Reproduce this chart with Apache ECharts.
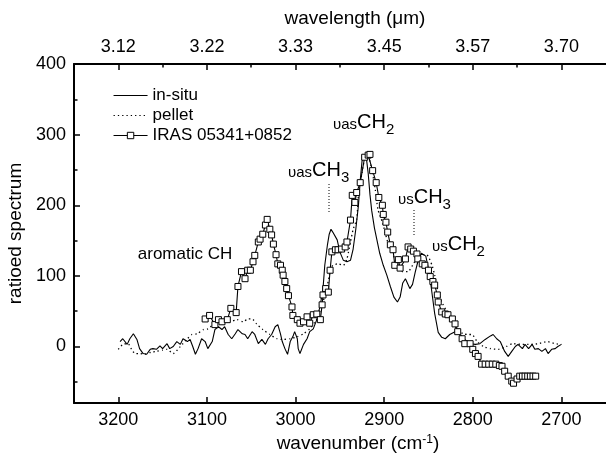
<!DOCTYPE html>
<html><head><meta charset="utf-8">
<script src="https://cdn.jsdelivr.net/npm/echarts@6/dist/echarts.min.js"></script>
<style>html,body{margin:0;padding:0;background:#fff}#c{width:606px;height:453px}</style>
</head><body><div id="c"></div>
<script>
// ---- data ----
const inSituWn = [3198,3195,3190,3187,3183,3179,3176,3172,3168,3164,3161,3157,3153,3150,3145,3142,3138,3134,3130,3127,3122,3119,3116,3113,3110,3106,3102,3099,3094,3091,3087,3083,3080,3076,3072,3068,3065,3060,3057,3054,3049,3046,3042,3038,3034,3031,3027,3023,3020,3017,3015,3012,3009,3006,3003,3001,2998,2997,2995,2991,2987,2984,2980,2976,2972,2969,2967,2964,2962,2960,2958,2953,2950,2946,2942,2938,2935,2932,2929,2927,2925,2923,2920,2918,2916,2914,2911,2908,2905,2901,2897,2893,2889,2885,2882,2879,2876,2874,2871,2868,2865,2862,2858,2856,2853,2850,2847,2843,2839,2835,2831,2826,2820,2814,2809,2803,2797,2792,2786,2780,2777,2773,2769,2764,2760,2756,2752,2749,2744,2741,2737,2733,2730,2726,2722,2718,2715,2711,2707,2704,2700];
const inSituVal = [7,11,3,11,18,10,-3,-10,-11,-4,-3,-4,1,-3,4,-3,0,7,3,11,7,10,0,-11,-3,11,7,-3,7,24,28,24,28,17,11,18,24,18,17,11,21,17,4,10,3,11,17,28,31,18,7,-3,-11,7,14,21,11,-3,-10,3,11,21,25,38,59,82,115,144,159,166,162,151,134,122,120,122,138,166,200,235,262,271,266,245,215,192,168,150,132,115,101,85,70,63,70,90,96,94,82,88,105,120,132,134,128,110,85,47,20,13,11,17,21,17,10,4,3,4,10,15,17,11,7,-7,-14,-7,0,3,-3,3,-3,3,-4,-3,-7,-3,-10,-4,-3,0,3];

const pelletWn = [3200,3195,3189,3185,3181,3176,3170,3163,3157,3150,3145,3138,3130,3122,3117,3111,3104,3099,3093,3087,3082,3074,3066,3059,3054,3049,3044,3037,3029,3021,3014,3006,2998,2991,2984,2976,2969,2964,2961,2958,2952,2946,2942,2938,2935,2931,2929,2925,2922,2918,2914,2910,2907,2902,2899,2896,2891,2888,2884,2879,2873,2867,2862,2857,2852,2846,2843,2839,2835,2829,2823,2818,2811,2805,2801,2795,2788,2780,2771,2762,2755,2744,2735,2726,2716,2707,2700];
const pelletVal = [-4,3,4,-4,-10,-10,-11,-8,-7,-5,-4,-10,0,11,17,18,24,25,31,35,39,35,38,35,39,39,32,24,17,11,10,11,14,18,25,39,63,87,106,115,117,115,124,148,166,180,214,246,265,268,251,222,194,176,162,148,134,124,115,106,106,117,127,130,130,115,101,77,63,49,35,25,18,17,17,7,0,-3,-4,0,4,3,3,4,7,4,3];

const irasWn = [3102,3097,3091,3087,3083,3077,3073,3067,3065,3061,3057,3054,3051,3048,3046,3042,3040,3037,3034,3032,3029,3027,3025,3022,3020,3017,3015,3014,3012,3010,3008,3004,3003,2998,2995,2991,2987,2984,2980,2976,2972,2970,2969,2966,2963,2961,2959,2955,2952,2948,2944,2942,2938,2936,2933,2931,2927,2922,2918,2916,2913,2909,2906,2902,2901,2898,2896,2893,2890,2888,2884,2882,2876,2873,2870,2867,2863,2862,2857,2854,2850,2848,2845,2843,2840,2839,2835,2831,2828,2823,2820,2817,2812,2809,2803,2800,2797,2794,2790,2786,2782,2778,2774,2770,2767,2764,2760,2756,2754,2750,2747,2744,2741,2738,2735,2732,2729];
const irasVal = [39,44,31,38,35,38,54,48,85,106,96,108,108,120,129,148,152,159,172,180,166,158,145,130,117,115,108,101,92,82,72,56,44,38,33,35,42,33,45,46,38,59,73,82,77,108,134,137,137,138,141,148,179,214,204,218,232,268,271,272,249,232,211,200,187,176,162,144,137,115,123,111,124,141,138,135,131,124,117,115,108,99,92,87,73,63,49,46,45,39,32,21,11,4,4,-4,-10,-14,-25,-25,-25,-25,-25,-27,-28,-35,-42,-49,-52,-46,-42,-42,-42,-42,-42,-42,-42];

const seriesNames = ['in-situ','pellet','IRAS 05341+0852'];
const xMajorTicks = [3200,3100,3000,2900,2800,2700];
const xMinorTicks = [3150,3050,2950,2850,2750];
const wavelengthLabels = ['3.12','3.22','3.33','3.45','3.57','3.70'];
const yMajorTicks = [0,100,200,300,400];
const yMinorTicks = [-50,50,150,250,350];

// ---- chart ----
const FONT = '"Liberation Sans", Arial, Helvetica, sans-serif';
const zip = (a,b) => a.map((v,i)=>[v,b[i]]);
const chart = echarts.init(document.getElementById('c'), null, {renderer:'canvas'});
const lineBlack = {color:'#000', width:2};
const xBase = {type:'value', min:2600, max:3250, inverse:true, gridIndex:0, splitLine:{show:false}};
const plain = (v) => String(v);
const rich5 = {
  g:{fontSize:15, fontFamily:FONT, fill:'#000', verticalAlign:'bottom', padding:[0,0,5,0]},
  b:{fontSize:20, fontFamily:FONT, fill:'#000', verticalAlign:'bottom', padding:[0,0,5,0]},
  s:{fontSize:15, fontFamily:FONT, fill:'#000', verticalAlign:'bottom'}
};

const option = {
  animation:false,
  backgroundColor:'#fff',
  grid:{left:74, right:-44, top:64, bottom:50, containLabel:false, outerBoundsMode:'none'},
  legend:{
    orient:'vertical', left:108, top:82, itemWidth:34, itemHeight:8, itemGap:3,
    lineStyle:{width:1.1},
    textStyle:{fontSize:17, color:'#000', fontFamily:FONT},
    data:[
      {name:seriesNames[0], itemStyle:{opacity:0}},
      {name:seriesNames[1], itemStyle:{opacity:0}},
      {name:seriesNames[2], itemStyle:{borderWidth:1}}
    ]
  },
  xAxis:[
    Object.assign({}, xBase, {
      position:'bottom',
      axisLine:{onZero:false, lineStyle:lineBlack},
      axisTick:{inside:true, length:6, customValues:xMajorTicks, lineStyle:{color:'#000', width:1.5}},
      axisLabel:{customValues:xMajorTicks, fontSize:18, color:'#000', fontFamily:FONT, margin:8, formatter:plain},
      name:'{t|wavenumber (cm}{sup|-1}{t|)}', nameLocation:'middle', nameGap:27,
      nameTextStyle:{fontSize:19, color:'#000', fontFamily:FONT, padding:[0,8,0,0],
        rich:{t:{fontSize:19, color:'#000', fontFamily:FONT, verticalAlign:'bottom'},
              sup:{fontSize:12, color:'#000', fontFamily:FONT, verticalAlign:'top'}}}
    }),
    Object.assign({}, xBase, {
      position:'top',
      axisLine:{onZero:false, lineStyle:lineBlack},
      axisTick:{inside:true, length:6, customValues:xMajorTicks, lineStyle:{color:'#000', width:1.5}},
      axisLabel:{customValues:xMajorTicks, fontSize:18, color:'#000', fontFamily:FONT, margin:8,
        formatter:(v)=>{const i=xMajorTicks.indexOf(v); return i>=0?wavelengthLabels[i]:'';}},
      name:'wavelength (\u03bcm)', nameLocation:'middle', nameGap:36,
      nameTextStyle:{fontSize:19, color:'#000', fontFamily:FONT, padding:[0,14,0,0]}
    }),
    Object.assign({}, xBase, {
      position:'top',
      axisLine:{show:false, onZero:false},
      axisTick:{inside:true, length:3.5, customValues:xMinorTicks, lineStyle:{color:'#000', width:1.5}},
      axisLabel:{show:false}
    })
  ],
  yAxis:[
    {type:'value', min:-80, max:400, position:'left', splitLine:{show:false},
      axisLine:{show:true, onZero:false, lineStyle:lineBlack},
      axisTick:{inside:true, length:6, customValues:yMajorTicks, lineStyle:{color:'#000', width:1.5}},
      axisLabel:{customValues:yMajorTicks, fontSize:18, color:'#000', fontFamily:FONT, margin:8, formatter:plain},
      name:'ratioed spectrum', nameLocation:'middle', nameGap:45,
      nameTextStyle:{fontSize:19, color:'#000', fontFamily:FONT}
    },
    {type:'value', min:-80, max:400, position:'left', splitLine:{show:false},
      axisLine:{show:false, onZero:false},
      axisTick:{inside:true, length:3.5, customValues:yMinorTicks, lineStyle:{color:'#000', width:1.5}},
      axisLabel:{show:false}
    }
  ],
  series:[
    {name:seriesNames[0], type:'line', data:zip(inSituWn, inSituVal), symbol:'none', z:3,
      itemStyle:{color:'#000'}, lineStyle:{color:'#000', width:1.1}},
    {name:seriesNames[1], type:'line', data:zip(pelletWn, pelletVal), symbol:'none', z:2, smooth:0.2,
      itemStyle:{color:'#000'}, lineStyle:{color:'#000', width:1.3, type:[1.3,3]}},
    {name:seriesNames[2], type:'line', data:zip(irasWn, irasVal), symbol:'rect', symbolSize:6, showAllSymbol:true, z:4,
      itemStyle:{color:'#fff', borderColor:'#000', borderWidth:1}, lineStyle:{color:'#000', width:1.1}}
  ],
  graphic:[
    {type:'text', x:185, y:254, style:{text:'aromatic CH', fontSize:17, fontFamily:FONT, fill:'#000', align:'center', verticalAlign:'middle'}},
    {type:'text', x:288, y:185, style:{text:'{g|\u03c5as}{b|CH}{s|3}', align:'left', verticalAlign:'bottom', fill:'#000', rich:rich5}},
    {type:'text', x:333, y:137, style:{text:'{g|\u03c5as}{b|CH}{s|2}', align:'left', verticalAlign:'bottom', fill:'#000', rich:rich5}},
    {type:'text', x:398, y:212, style:{text:'{g|\u03c5s}{b|CH}{s|3}', align:'left', verticalAlign:'bottom', fill:'#000', rich:rich5}},
    {type:'text', x:432, y:259, style:{text:'{g|\u03c5s}{b|CH}{s|2}', align:'left', verticalAlign:'bottom', fill:'#000', rich:rich5}},
    {type:'line', shape:{x1:329, y1:184, x2:329, y2:212}, style:{stroke:'#000', lineWidth:1, lineDash:[1,2]}},
    {type:'line', shape:{x1:414, y1:210, x2:414, y2:235}, style:{stroke:'#000', lineWidth:1, lineDash:[1,2]}}
  ]
};
chart.setOption(option);
</script>
</body></html>
